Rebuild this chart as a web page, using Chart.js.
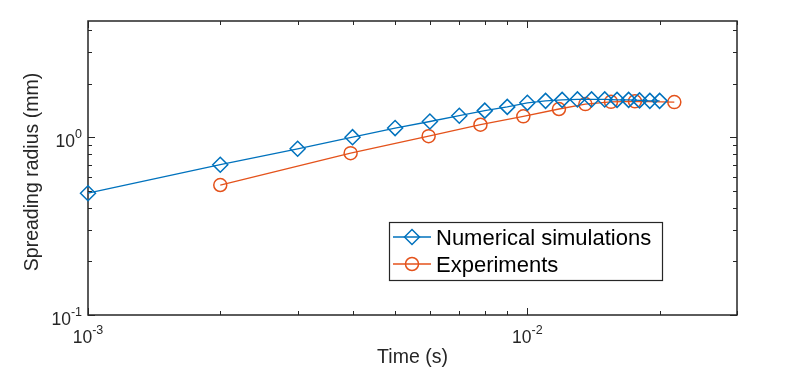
<!DOCTYPE html>
<html>
<head>
<meta charset="utf-8">
<script src="https://cdn.jsdelivr.net/npm/chart.js@4.4.1/dist/chart.umd.min.js"></script>
<style>
  html, body { margin: 0; padding: 0; background: #ffffff; }
  #wrap { width: 794px; height: 392px; position: relative; }
</style>
</head>
<body>
<div id="wrap"><canvas id="c" width="794" height="392"></canvas></div>
<script>
// ---- data ----
const simTime   = [0.001, 0.002, 0.003, 0.004, 0.005, 0.006, 0.007, 0.008, 0.009, 0.010,
                   0.011, 0.012, 0.013, 0.014, 0.015, 0.016, 0.017, 0.018, 0.019, 0.020];
const simRadius = [0.484, 0.70, 0.86, 1.00, 1.125, 1.225, 1.32, 1.41, 1.48, 1.56,
                   1.60, 1.62, 1.63, 1.63, 1.63, 1.62, 1.62, 1.61, 1.60, 1.60];
const expTime   = [0.002, 0.00396, 0.00596, 0.00782, 0.00979, 0.0118, 0.01355, 0.0155, 0.01757, 0.0216];
const expRadius = [0.538, 0.813, 1.013, 1.175, 1.31, 1.44, 1.535, 1.58, 1.59, 1.575];
const seriesNames = ['Numerical simulations', 'Experiments'];
const xTickValues = [0.001, 0.01];
const xTickLabels = [['10', '-3'], ['10', '-2']];
const yTickValues = [0.1, 1];
const yTickLabels = [['10', '-1'], ['10', '0']];
const xTitle = 'Time (s)';
const yTitle = 'Spreading radius (mm)';
const xRange = [0.001, 0.03];
const yRange = [0.1, 4.5];

const BLUE = '#0072BD';
const ORANGE = '#E4521B';
const AXIS = '#262626';
const FONT = '"Liberation Sans", Arial, sans-serif';

function pts(xs, ys) { return xs.map((x, i) => ({ x: x, y: ys[i] })); }

function minorValues(min, max) {
  const out = [];
  for (let d = Math.floor(Math.log10(min)); d <= Math.ceil(Math.log10(max)); d++) {
    for (let m = 1; m <= 9; m++) {
      const v = m * Math.pow(10, d);
      if (v >= min * 0.999 && v <= max * 1.001) out.push({ v: v, major: m === 1 });
    }
  }
  return out;
}

function drawPow(ctx, base, exp, x, y, align, baseSize, expSize) {
  ctx.font = baseSize + 'px ' + FONT;
  const wb = ctx.measureText(base).width;
  ctx.font = expSize + 'px ' + FONT;
  const we = ctx.measureText(exp).width;
  const total = wb + we;
  let left = x;
  if (align === 'center') left = x - total / 2;
  else if (align === 'right') left = x - total;
  ctx.textAlign = 'left';
  ctx.textBaseline = 'alphabetic';
  ctx.font = baseSize + 'px ' + FONT;
  ctx.fillText(base, left, y);
  ctx.font = expSize + 'px ' + FONT;
  ctx.fillText(exp, left + wb, y - 9);
}

const framePlugin = {
  id: 'frame',
  beforeDatasetsDraw(chart) {
    const ctx = chart.ctx;
    const a = chart.chartArea;
    const xs = chart.scales.x, ys = chart.scales.y;
    ctx.save();
    ctx.strokeStyle = AXIS;
    ctx.lineWidth = 1.5;
    ctx.strokeRect(a.left, a.top, a.right - a.left, a.bottom - a.top);
    ctx.lineWidth = 1;
    ctx.beginPath();
    minorValues(xRange[0], xRange[1]).forEach(t => {
      const px = Math.round(xs.getPixelForValue(t.v)) + 0.5;
      const L = t.major ? 7 : 4;
      ctx.moveTo(px, a.bottom); ctx.lineTo(px, a.bottom - L);
      ctx.moveTo(px, a.top); ctx.lineTo(px, a.top + L);
    });
    minorValues(yRange[0], yRange[1]).forEach(t => {
      const py = Math.round(ys.getPixelForValue(t.v)) + 0.5;
      const L = t.major ? 7 : 4;
      ctx.moveTo(a.left, py); ctx.lineTo(a.left + L, py);
      ctx.moveTo(a.right, py); ctx.lineTo(a.right - L, py);
    });
    ctx.stroke();
    ctx.restore();
  },
  afterDraw(chart) {
    const ctx = chart.ctx;
    const a = chart.chartArea;
    const xs = chart.scales.x, ys = chart.scales.y;
    ctx.save();
    ctx.fillStyle = AXIS;
    // tick labels
    xTickValues.forEach((v, i) => {
      drawPow(ctx, xTickLabels[i][0], xTickLabels[i][1], xs.getPixelForValue(v), a.bottom + 28, 'center', 17.5, 12.5);
    });
    yTickValues.forEach((v, i) => {
      drawPow(ctx, yTickLabels[i][0], yTickLabels[i][1], a.left - 6, ys.getPixelForValue(v) + 10, 'right', 17.5, 12.5);
    });
    // axis titles
    ctx.font = '19.5px ' + FONT;
    ctx.textAlign = 'center';
    ctx.textBaseline = 'middle';
    ctx.fillText(xTitle, (a.left + a.right) / 2, a.bottom + 43);
    ctx.save();
    ctx.translate(33, (a.top + a.bottom) / 2 + 4);
    ctx.rotate(-Math.PI / 2);
    ctx.fillText(yTitle, 0, 0);
    ctx.restore();

    // legend
    const bx = 389, by = 222, bw = 273, bh = 58;
    ctx.fillStyle = '#ffffff';
    ctx.fillRect(bx, by, bw, bh);
    ctx.strokeStyle = AXIS;
    ctx.lineWidth = 1.2;
    ctx.strokeRect(bx + 0.5, by + 0.5, bw, bh);
    chart.data.datasets.forEach((ds, i) => {
      const cy = by + 15 + i * 27;
      ctx.strokeStyle = ds.borderColor;
      ctx.lineWidth = ds.borderWidth;
      ctx.beginPath();
      ctx.moveTo(bx + 4, cy); ctx.lineTo(bx + 42, cy);
      ctx.stroke();
      ctx.fillStyle = 'rgba(0,0,0,0)';
      ctx.strokeStyle = ds.pointBorderColor;
      ctx.lineWidth = ds.pointBorderWidth;
      Chart.helpers.drawPoint(ctx, {
        pointStyle: ds.pointStyle, radius: ds.pointRadius, rotation: 0,
        borderWidth: ds.pointBorderWidth
      }, bx + 23, cy);
      ctx.fillStyle = '#000000';
      ctx.font = '22px ' + FONT;
      ctx.textAlign = 'left';
      ctx.textBaseline = 'alphabetic';
      ctx.fillText(ds.label, bx + 47, cy + 8);
    });
    ctx.restore();
  }
};

new Chart(document.getElementById('c'), {
  type: 'line',
  data: {
    datasets: [
      {
        label: seriesNames[0],
        data: pts(simTime, simRadius),
        borderColor: BLUE, backgroundColor: 'rgba(0,0,0,0)',
        borderWidth: 1.3, pointStyle: 'rectRot', pointRadius: 7.5,
        pointBorderWidth: 1.5, pointBackgroundColor: 'rgba(0,0,0,0)',
        pointBorderColor: BLUE, tension: 0, clip: false
      },
      {
        label: seriesNames[1],
        data: pts(expTime, expRadius),
        borderColor: ORANGE, backgroundColor: 'rgba(0,0,0,0)',
        borderWidth: 1.3, pointStyle: 'circle', pointRadius: 6.5,
        pointBorderWidth: 1.5, pointBackgroundColor: 'rgba(0,0,0,0)',
        pointBorderColor: ORANGE, tension: 0, clip: false
      }
    ]
  },
  options: {
    responsive: false,
    animation: false,
    devicePixelRatio: 1,
    layout: { padding: { left: 88, top: 21, right: 57, bottom: 77 } },
    scales: {
      x: { type: 'logarithmic', min: xRange[0], max: xRange[1], display: false },
      y: { type: 'logarithmic', min: yRange[0], max: yRange[1], display: false }
    },
    plugins: { legend: { display: false }, tooltip: { enabled: false } }
  },
  plugins: [framePlugin]
});
</script>
</body>
</html>
